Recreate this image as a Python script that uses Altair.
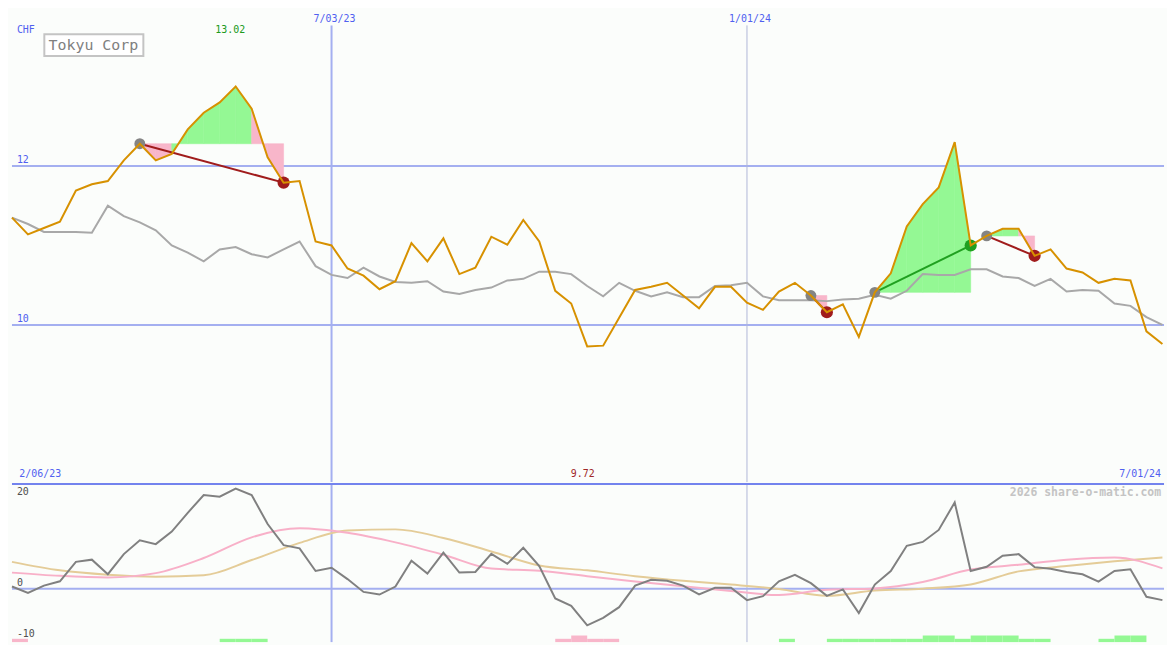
import altair as alt
import pandas as pd

# ---------------- data (weekly, 13 Feb 2023 .. 1 Jul 2024) ----------------
weeks = list(range(73))
price = [11.35, 11.14, 11.22, 11.30, 11.69, 11.77, 11.81, 12.07, 12.28, 12.07,
         12.15, 12.46, 12.67, 12.80, 13.00, 12.72, 12.11, 11.79, 11.81, 11.05,
         11.00, 10.71, 10.62, 10.45, 10.55, 11.03, 10.80, 11.09, 10.64, 10.72,
         11.11, 11.01, 11.32, 11.05, 10.43, 10.27, 9.73, 9.74, 10.09, 10.44,
         10.48, 10.53, 10.37, 10.21, 10.48, 10.48, 10.28, 10.19, 10.42, 10.53,
         10.37, 10.16, 10.26, 9.85, 10.41, 10.65, 11.24, 11.52, 11.73, 12.30,
         11.00, 11.12, 11.21, 11.21, 10.87, 10.95, 10.71, 10.66, 10.53, 10.58,
         10.56, 9.92, 9.76]
avg = [11.35, 11.27, 11.17, 11.17, 11.17, 11.16, 11.50, 11.37, 11.29, 11.19,
       11.00, 10.91, 10.80, 10.95, 10.98, 10.89, 10.85, 10.95, 11.05, 10.74,
       10.63, 10.59, 10.72, 10.61, 10.54, 10.53, 10.55, 10.42, 10.39, 10.44,
       10.47, 10.56, 10.58, 10.67, 10.67, 10.64, 10.49, 10.36, 10.53, 10.43,
       10.36, 10.41, 10.35, 10.35, 10.49, 10.50, 10.53, 10.36, 10.31, 10.31,
       10.31, 10.30, 10.32, 10.33, 10.38, 10.33, 10.43, 10.64, 10.63, 10.63,
       10.70, 10.70, 10.61, 10.59, 10.49, 10.58, 10.42, 10.44, 10.43, 10.27,
       10.24, 10.10, 10.00]
mom = [0.44, -0.83, 0.63, 1.48, 5.33, 5.77, 2.88, 6.87, 9.62, 8.85,
       11.35, 15.06, 18.6, 18.27, 19.87, 18.6, 12.83, 8.65, 8.02, 3.52,
       4.17, 1.92, -0.63, -1.15, 0.44, 5.58, 3.02, 7.17, 3.21, 3.33,
       6.92, 4.94, 8.13, 4.48, -1.92, -3.40, -7.25, -5.77, -3.65, 0.63,
       1.79, 1.60, 0.63, -1.10, 0.19, 0.19, -2.25, -1.48, 1.48, 2.75,
       1.10, -1.40, -0.13, -4.81, 0.83, 3.52, 8.52, 9.29, 11.67, 17.12,
       3.52, 4.37, 6.54, 6.87, 4.29, 3.98, 3.33, 2.88, 1.40, 3.52,
       3.85, -1.60, -2.25]
sig_k = list(range(0, 73, 3))
sig_pink = [3.2, 2.56, 2.25, 3.1, 6.1, 10.2, 12.0, 11.1, 9.2, 6.75, 4.0, 3.55, 2.5,
            1.45, 0.48, -0.44, -1.25, -0.2, 0.07, 1.35, 3.8, 4.75, 5.77, 6.2, 4.04]
sig_tan = [5.33, 3.65, 2.78, 2.4, 2.67, 5.7, 9.1, 11.55, 11.78, 10.07, 7.4, 4.63, 3.65,
           2.5, 1.58, 0.83, -0.05, -1.4, -0.34, 0.02, 0.85, 3.45, 4.5, 5.44, 6.2]
bar_k = [0, 13, 14, 15, 34, 35, 36, 37, 48, 51, 52, 53, 54, 55, 56, 57, 58, 59, 60,
         61, 62, 63, 64, 68, 69, 70]
bar_h = [1, 1, 1, 1, 1, 2, 1, 1, 1, 1, 1, 1, 1, 1, 1, 2, 2, 1, 2,
         2, 2, 1, 1, 1, 2, 2]
bar_up = [0, 1, 1, 1, 0, 0, 0, 0, 1, 1, 1, 1, 1, 1, 1, 1, 1, 1, 1,
          1, 1, 1, 1, 1, 1, 1]
entry_k = [8, 50, 54, 61]
exit_k = [17, 51, 60, 64]
vline_k = [20, 46]
vline_lbl = ["7/03/23", "1/01/24"]
hline_v = [10, 12]
hline_lbl = ["10", "12"]
mline_v = [0, -10]
mline_lbl = ["0", "-10"]

# ---------------- layout ----------------
W, H1, H2 = 1159, 475, 159
SX = W / 1175
SY = (H1 + H2) / 650
FONT = "DejaVu Sans Mono"
BLUE_T = "#5060f0"
GRID = "#a4aff0"
GREEN_F = "#94f894"
PINK_F = "#f8b6ca"
BG = "#fbfdfb"

xs = alt.Scale(domain=[0, 72.1], nice=False, zero=False)
ys1 = alt.Scale(domain=[8.024, 13.963], nice=False, zero=False)
ys2 = alt.Scale(domain=[-10.58, 20.77], nice=False, zero=False)

df = pd.DataFrame({"k": weeks, "price": price, "avg": avg, "mom": mom})
X = alt.X("k:Q", scale=xs, axis=None)

# trade fills
rows = []
for t, (ek, xk) in enumerate(zip(entry_k, exit_k)):
    e = price[ek]
    for k in range(ek, xk):
        c = GREEN_F if price[k + 1] > e else PINK_F
        rows.append(dict(seg=f"{t}-{k}", k=k, p=price[k], e=e, c=c))
        rows.append(dict(seg=f"{t}-{k}", k=k + 1, p=price[k + 1], e=e, c=c))
fill_df = pd.DataFrame(rows)

tl_rows, pt_rows = [], []
for t, (ek, xk) in enumerate(zip(entry_k, exit_k)):
    win = price[xk] > price[ek]
    c = "#20a020" if win else "#a01c1c"
    tl_rows.append(dict(t=t, k=ek, p=price[ek], c=c))
    tl_rows.append(dict(t=t, k=xk, p=price[xk], c=c))
    pt_rows.append(dict(k=ek, p=price[ek], c="#848484", s=120))
    pt_rows.append(dict(k=xk, p=price[xk], c=c, s=150))
tl_df = pd.DataFrame(tl_rows)
pt_df = pd.DataFrame(pt_rows)

hl_df = pd.DataFrame({"v": hline_v, "lbl": hline_lbl})
vl_df = pd.DataFrame({"k": vline_k, "lbl": vline_lbl,
                      "c": [GRID, "#b0b6d8"], "w": [2, 1]})

hrule = alt.Chart(hl_df).mark_rule(color=GRID, strokeWidth=2).encode(
    y=alt.Y("v:Q", scale=ys1, axis=None))
vrule = alt.Chart(vl_df).mark_rule().encode(
    x=X, y=alt.value(16 * SY), y2=alt.value(H1),
    color=alt.Color("c:N", scale=None), strokeWidth=alt.StrokeWidth("w:Q", scale=None))
fills = alt.Chart(fill_df).mark_area(opacity=1, strokeWidth=0.6).encode(
    x=X, y=alt.Y("p:Q", scale=ys1, axis=None), y2="e:Q",
    color=alt.Color("c:N", scale=None), stroke=alt.Stroke("c:N", scale=None),
    detail="seg:N")
avg_line = alt.Chart(df).mark_line(color="#a8a8a8", strokeWidth=2).encode(
    x=X, y=alt.Y("avg:Q", scale=ys1, axis=None))
trade_lines = alt.Chart(tl_df).mark_line(strokeWidth=2).encode(
    x=X, y=alt.Y("p:Q", scale=ys1, axis=None),
    color=alt.Color("c:N", scale=None), detail="t:N")
circles = alt.Chart(pt_df).mark_circle(opacity=1).encode(
    x=X, y=alt.Y("p:Q", scale=ys1, axis=None),
    color=alt.Color("c:N", scale=None), size=alt.Size("s:Q", scale=None))
price_line = alt.Chart(df).mark_line(color="#d79100", strokeWidth=2).encode(
    x=X, y=alt.Y("price:Q", scale=ys1, axis=None))

hl_text = alt.Chart(hl_df).mark_text(align="left", baseline="middle", font=FONT,
                                     fontSize=10, color=BLUE_T, dy=-5.5).encode(
    x=alt.value(5 * SX), y=alt.Y("v:Q", scale=ys1, axis=None), text="lbl:N")
vl_text = alt.Chart(vl_df).mark_text(align="center", baseline="middle", font=FONT,
                                     fontSize=10, color=BLUE_T, dx=3).encode(
    x=X, y=alt.value(9 * SY), text="lbl:N")

hi_k = max(range(73), key=lambda i: price[i])
lo_k = min(range(73), key=lambda i: price[i])
ext_df = pd.DataFrame({"k": [hi_k], "lbl": ["13.02"]})
lo_df = pd.DataFrame({"k": [lo_k], "lbl": ["9.72"]})
hi_text = alt.Chart(ext_df).mark_text(align="center", baseline="middle", font=FONT,
                                      fontSize=10, color="#209a20", dx=-5.5).encode(
    x=X, y=alt.value(21 * SY), text="lbl:N")
lo_text = alt.Chart(lo_df).mark_text(align="center", baseline="middle", font=FONT,
                                     fontSize=10, color="#a02828", dx=-4.5).encode(
    x=X, y=alt.value(478.5 * SY), text="lbl:N")

static_df = pd.DataFrame({"lbl": ["CHF", "2/06/23", "7/01/24"],
                          "px": [5 * SX, 7.5 * SX, 1172 * SX],
                          "py": [21 * SY, 478.5 * SY, 478.5 * SY]})
chf_text = alt.Chart(static_df.iloc[:2]).mark_text(align="left", baseline="middle", font=FONT,
                                                   fontSize=10, color=BLUE_T).encode(
    x=alt.X("px:Q", scale=None), y=alt.Y("py:Q", scale=None), text="lbl:N")
end_text = alt.Chart(static_df.iloc[2:]).mark_text(align="right", baseline="middle", font=FONT,
                                                   fontSize=10, color=BLUE_T).encode(
    x=alt.X("px:Q", scale=None), y=alt.Y("py:Q", scale=None), text="lbl:N")

title_box = alt.Chart(pd.DataFrame({"t": ["Tokyu Corp"]})).mark_rect(
    fill="#ffffff", stroke="#c4c4c4", strokeWidth=2).encode(
    x=alt.value(33 * SX), x2=alt.value(134 * SX), y=alt.value(25 * SY), y2=alt.value(47.5 * SY))
title_text = alt.Chart(pd.DataFrame({"t": ["Tokyu Corp"]})).mark_text(
    align="center", baseline="middle", font=FONT, fontSize=15, color="#808080").encode(
    x=alt.value(83 * SX), y=alt.value(36.5 * SY), text="t:N")

top = alt.layer(hrule, vrule, fills, avg_line, trade_lines, circles, price_line,
                hl_text, vl_text, hi_text, lo_text, chf_text, end_text,
                title_box, title_text).properties(width=W, height=H1)

# ---------------- bottom panel ----------------
sig_df = pd.DataFrame({"k": sig_k, "pink": sig_pink, "tan": sig_tan})
bar_df = pd.DataFrame({"k": bar_k, "h": bar_h,
                       "c": [GREEN_F if u else PINK_F for u in bar_up]})
bar_df["k2"] = bar_df["k"] + 1
bar_df["z"] = 0
ml_df = pd.DataFrame({"v": mline_v, "lbl": mline_lbl})

sep = alt.Chart(pd.DataFrame({"v": [20.77]})).mark_rule(color="#7383ee", strokeWidth=2).encode(
    y=alt.Y("v:Q", scale=ys2, axis=None))
mrule = alt.Chart(ml_df.iloc[:1]).mark_rule(color=GRID, strokeWidth=2).encode(
    y=alt.Y("v:Q", scale=ys2, axis=None))
vrule2 = alt.Chart(vl_df).mark_rule().encode(
    x=X, color=alt.Color("c:N", scale=None), strokeWidth=alt.StrokeWidth("w:Q", scale=None))
bars = alt.Chart(bar_df).mark_rect().encode(
    x=X, x2="k2:Q",
    y=alt.Y("z:Q", scale=alt.Scale(domain=[0, 48], nice=False), axis=None), y2="h:Q",
    color=alt.Color("c:N", scale=None))
tan_line = alt.Chart(sig_df).mark_line(color="#e4cc98", strokeWidth=2, interpolate="monotone").encode(
    x=X, y=alt.Y("tan:Q", scale=ys2, axis=None))
pink_line = alt.Chart(sig_df).mark_line(color="#f8b0c8", strokeWidth=2, interpolate="monotone").encode(
    x=X, y=alt.Y("pink:Q", scale=ys2, axis=None))
mom_line = alt.Chart(df).mark_line(color="#808080", strokeWidth=2).encode(
    x=X, y=alt.Y("mom:Q", scale=ys2, axis=None))
ml_text = alt.Chart(ml_df).mark_text(align="left", baseline="middle", font=FONT,
                                     fontSize=10, color="#505050", dy=-5.5).encode(
    x=alt.value(5 * SX), y=alt.Y("v:Q", scale=ys2, axis=None), text="lbl:N")
t20 = alt.Chart(pd.DataFrame({"v": [20], "lbl": ["20"]})).mark_text(
    align="left", baseline="middle", font=FONT, fontSize=10, color="#505050", dy=4.5).encode(
    x=alt.value(5 * SX), y=alt.Y("v:Q", scale=ys2, axis=None), text="lbl:N")
wm = alt.Chart(pd.DataFrame({"t": ["2026 share-o-matic.com"]})).mark_text(
    align="right", baseline="middle", font=FONT, fontSize=11.5, fontWeight="bold",
    color="#c4c4c4").encode(x=alt.value(1172 * SX), y=alt.value(9 * SY), text="t:N")

bottom = alt.layer(mrule, vrule2, bars, tan_line, pink_line, mom_line, sep,
                   ml_text, t20, wm).resolve_scale(y="independent").properties(width=W, height=H2)

chart = alt.vconcat(top, bottom, spacing=0).properties(
    padding={"left": 0, "right": 0, "top": 0, "bottom": 0},
).configure(
    background=BG, padding=0, view=alt.ViewConfig(stroke=None))

chart.save("out.html", embed_options={"renderer": "svg", "actions": False})
